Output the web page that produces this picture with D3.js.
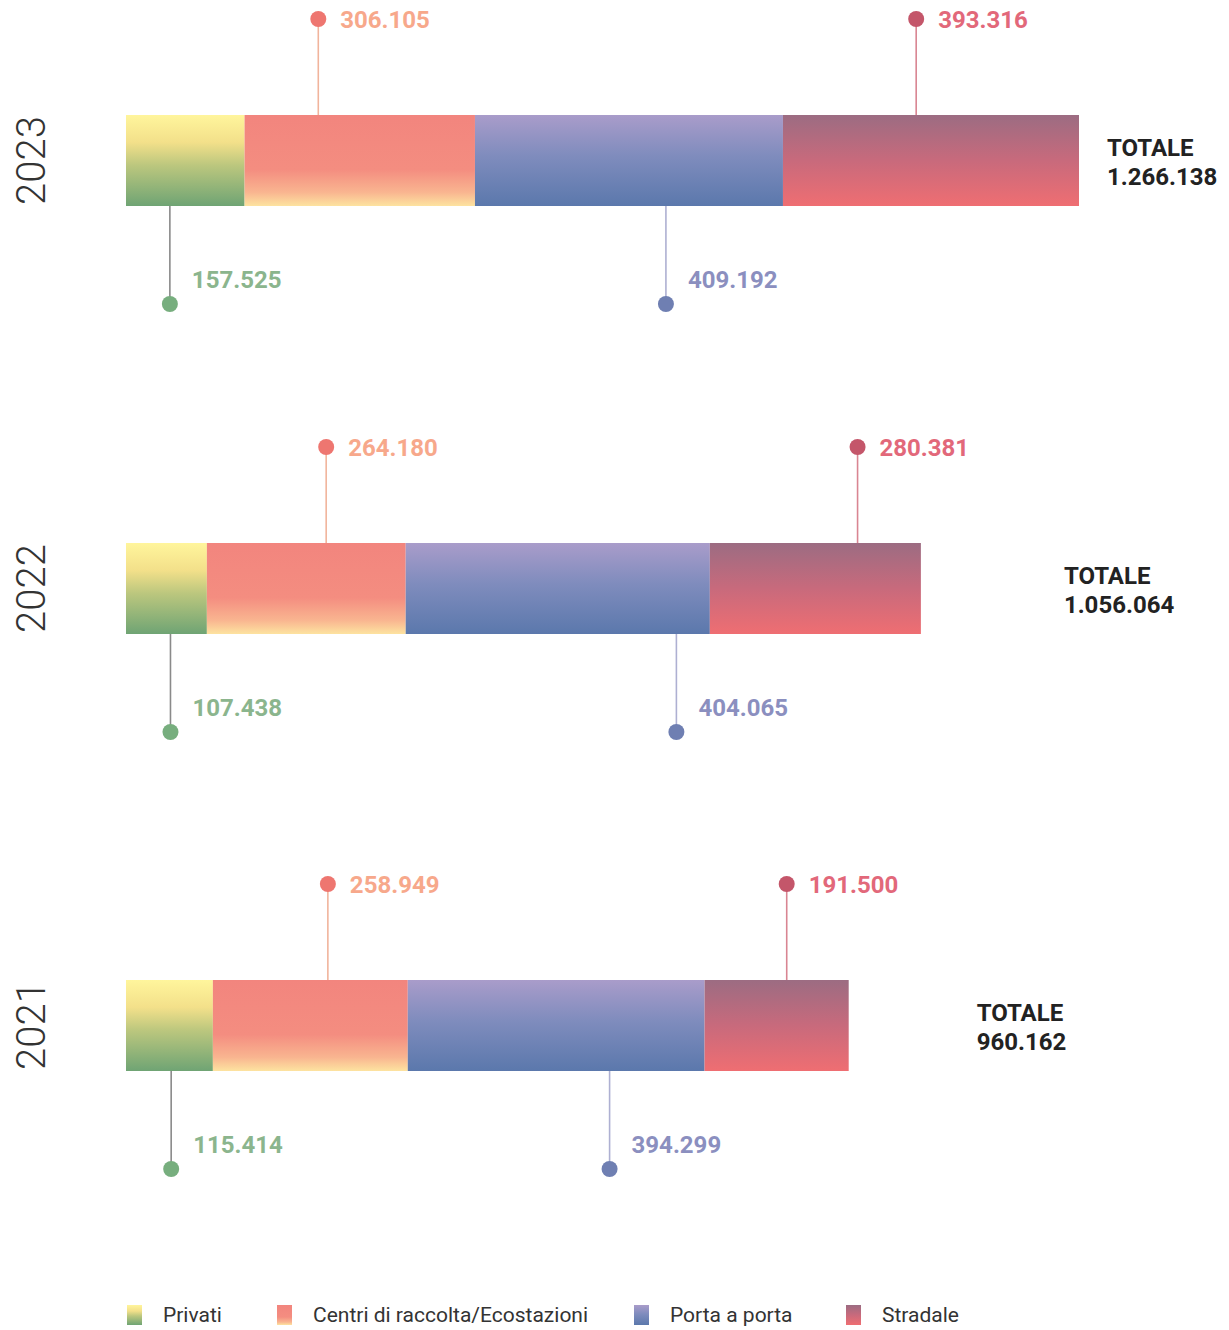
<!DOCTYPE html>
<html><head><meta charset="utf-8">
<script src="https://cdn.jsdelivr.net/npm/d3@7"></script>
<style>
html,body{margin:0;padding:0;background:#fff;}
svg{display:block;font-family:Roboto, "Noto Sans", sans-serif;}
</style></head>
<body>
<svg id="chart" width="1229" height="1330"></svg>
<script>
// ---- data ----
const years = ["2023", "2022", "2021"];
const categories = ["Privati", "Centri di raccolta/Ecostazioni", "Porta a porta", "Stradale"];
const privati = [157525, 107438, 115414];
const centri  = [306105, 264180, 258949];
const porta   = [409192, 404065, 394299];
const stradale= [393316, 280381, 191500];
const totals  = [1266138, 1056064, 960162];
const totalLabel = "TOTALE";

// ---- layout (not data) ----
const leaderFrac = [            // where each leader sits along its segment
  [0.37, 0.32, 0.62, 0.45],
  [0.55, 0.60, 0.89, 0.70],
  [0.52, 0.59, 0.68, 0.57]
];
const leaderSide = [1, -1, 1, -1];  // 1 = below, -1 = above
const totalOffset = [28, 143, 128];
const barTop = [115, 543, 980];
const barH = 91;

const fmt = v => d3.format(",")(v).replace(/,/g, ".");
const svg = d3.select("#chart");
const defs = svg.append("defs");

const gradStops = [
  [["0%","#fff59c"],["30%","#f3e08a"],["55%","#bcc77e"],["100%","#6fa474"]],
  [["0%","#f2857e"],["60%","#f48d80"],["85%","#f9b590"],["100%","#fde3a0"]],
  [["0%","#a99cca"],["45%","#7f8cbd"],["100%","#5b78ac"]],
  [["0%","#9c6c82"],["50%","#c86a7c"],["100%","#ef6e72"]]
];
const labelColor = ["#8bb58d", "#f7a88b", "#8b8fbf", "#e2687a"];
const dotColor   = ["#77ae7e", "#ee7670", "#6f7fb2", "#c4566a"];
const lineColor  = ["#8a8a8a", "#f1b49c", "#aeb0d2", "#d98592"];

gradStops.forEach((stops, i) => {
  const g = defs.append("linearGradient").attr("id", "g" + i)
    .attr("x1", 0).attr("y1", 0).attr("x2", 0).attr("y2", 1);
  stops.forEach(s => g.append("stop").attr("offset", s[0]).attr("stop-color", s[1]));
});

const x = d3.scaleLinear().domain([0, d3.max(totals)]).range([126, 1079]);

years.forEach((yr, yi) => {
  const vals = [privati[yi], centri[yi], porta[yi], stradale[yi]];
  const stack = [];
  let acc = 0;
  vals.forEach((v, ci) => { stack.push({ci, v, x0: acc, x1: acc + v}); acc += v; });
  const top = barTop[yi];
  const g = svg.append("g");

  // year label
  svg.append("text")
    .attr("transform", `translate(45,${top + barH / 2}) rotate(-90)`)
    .attr("text-anchor", "middle")
    .attr("font-size", 40).attr("font-weight", 300).attr("fill", "#333")
    .text(yr);

  // bars
  g.selectAll("rect").data(stack).enter().append("rect")
    .attr("x", d => x(d.x0))
    .attr("width", d => x(d.x1) - x(d.x0))
    .attr("y", top).attr("height", barH)
    .attr("fill", d => `url(#g${d.ci})`);

  // leaders
  stack.forEach(d => {
    const lx = x(d.x0 + leaderFrac[yi][d.ci] * d.v);
    const side = leaderSide[d.ci];
    const y0 = side > 0 ? top + barH : top;
    const yDot = side > 0 ? top + barH + 98 : top - 96;
    g.append("line").attr("x1", lx).attr("x2", lx).attr("y1", y0).attr("y2", yDot)
      .attr("stroke", lineColor[d.ci]).attr("stroke-width", 1.6);
    g.append("circle").attr("cx", lx).attr("cy", yDot).attr("r", 8)
      .attr("fill", dotColor[d.ci]);
    g.append("text")
      .attr("x", lx + 22)
      .attr("y", side > 0 ? yDot - 22 : yDot + 3)
      .attr("dominant-baseline", "middle")
      .attr("font-size", 24).attr("font-weight", 700)
      .attr("fill", labelColor[d.ci])
      .text(fmt(d.v));
  });

  // total
  const tx = x(totals[yi]) + totalOffset[yi];
  const t = g.append("text").attr("x", tx).attr("y", top + 41)
    .attr("font-size", 24).attr("font-weight", 700).attr("fill", "#222");
  t.append("tspan").attr("x", tx).text(totalLabel);
  t.append("tspan").attr("x", tx).attr("dy", 29).text(fmt(totals[yi]));
});

// legend
const legendX = [127, 277, 634, 846];
const lg = svg.append("g");
categories.forEach((c, i) => {
  lg.append("rect").attr("x", legendX[i]).attr("y", 1305).attr("width", 15).attr("height", 20)
    .attr("fill", `url(#g${i})`);
  lg.append("text").attr("x", legendX[i] + 36).attr("y", 1316)
    .attr("dominant-baseline", "middle")
    .attr("font-size", 21).attr("fill", "#333")
    .text(c);
});
</script>
</body></html>
